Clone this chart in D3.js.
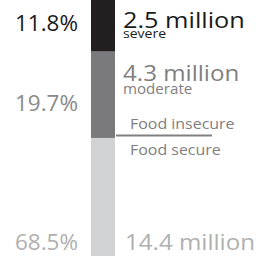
<!DOCTYPE html>
<html>
<head>
<meta charset="utf-8">
<script src="https://cdn.jsdelivr.net/npm/d3@7"></script>
<style>
  body { margin: 0; background: #fff; }
  text { font-family: "Open Sans", sans-serif; }
</style>
</head>
<body>
<script>
// chart data
var categories = ["severe", "moderate", "secure"];
var shares = [11.8, 19.7, 68.5]; // percent of population
var people = [2.5, 4.3, 14.4]; // millions
var subLabels = ["severe", "moderate", ""];
var groupLabels = ["Food insecure", "Food secure"];

var barColors = ["#231f20", "#7a7a7c", "#d1d2d4"];
var pctColors = ["#1a1a1a", "#8a8a8a", "#b0b0b0"];
var numColors = ["#1a1a1a", "#7f7f7f", "#b0b0b0"];
var numSizes = [22, 21, 21];
var stretch = 1.15; // the original type is wider than Open Sans

var w = 259, h = 256;
var barX = 91, barW = 24;

var svg = d3.select("body").append("svg")
    .attr("width", w)
    .attr("height", h);

// bar is taller than the picture, the bottom is cut off
var y = d3.scaleLinear().domain([0, 100]).range([0, 438]);

var rows = [];
var acc = 0;
for (var i = 0; i < shares.length; i++) {
  rows.push({ cat: categories[i], share: shares[i], people: people[i], sub: subLabels[i], y0: acc, y1: acc + shares[i] });
  acc += shares[i];
}

svg.selectAll("rect.seg")
    .data(rows)
    .enter()
    .append("rect")
    .attr("class", "seg")
    .attr("x", barX)
    .attr("width", barW)
    .attr("y", function(d) { return y(d.y0); })
    .attr("height", function(d) { return y(d.y1) - y(d.y0); })
    .attr("fill", function(d, i) { return barColors[i]; });

// baselines of the labels
var pctY = [31, 111, 250];
var numY = [28, 81, 250];
var subY = [38, 94, 0];

function place(x, yy, sx) {
  return "translate(" + x + "," + yy + ") scale(" + sx + ",1)";
}

svg.selectAll("text.pct")
    .data(rows)
    .enter()
    .append("text")
    .attr("class", "pct")
    .attr("transform", function(d, i) { return place(78, pctY[i], 1.07); })
    .attr("text-anchor", "end")
    .attr("font-size", "21px")
    .attr("fill", function(d, i) { return pctColors[i]; })
    .text(function(d) { return d.share.toFixed(1) + "%"; });

svg.selectAll("text.num")
    .data(rows)
    .enter()
    .append("text")
    .attr("class", "num")
    .attr("transform", function(d, i) { return place(i == 2 ? 125 : 123, numY[i], stretch); })
    .attr("font-size", function(d, i) { return numSizes[i] + "px"; })
    .attr("fill", function(d, i) { return numColors[i]; })
    .text(function(d) { return d.people.toFixed(1) + " million"; });

svg.selectAll("text.sub")
    .data(rows.filter(function(d) { return d.sub; }))
    .enter()
    .append("text")
    .attr("class", "sub")
    .attr("transform", function(d, i) { return place(123, subY[i], 1.08); })
    .attr("font-size", function(d, i) { return i == 0 ? "13px" : "14px"; })
    .attr("fill", function(d, i) { return numColors[i]; })
    .text(function(d) { return d.sub; });

// divider between insecure and secure
var divY = y(shares[0] + shares[1]) - 2.5;
svg.append("line")
    .attr("x1", 116)
    .attr("x2", 212)
    .attr("y1", divY)
    .attr("y2", divY)
    .attr("stroke", "#808080")
    .attr("stroke-width", 2);

svg.selectAll("text.grp")
    .data(groupLabels)
    .enter()
    .append("text")
    .attr("class", "grp")
    .attr("transform", function(d, i) { return place(130, divY + (i == 0 ? -6.5 : 19.5), 1.14); })
    .attr("font-size", "14px")
    .attr("fill", "#808080")
    .text(function(d) { return d; });
</script>
</body>
</html>
